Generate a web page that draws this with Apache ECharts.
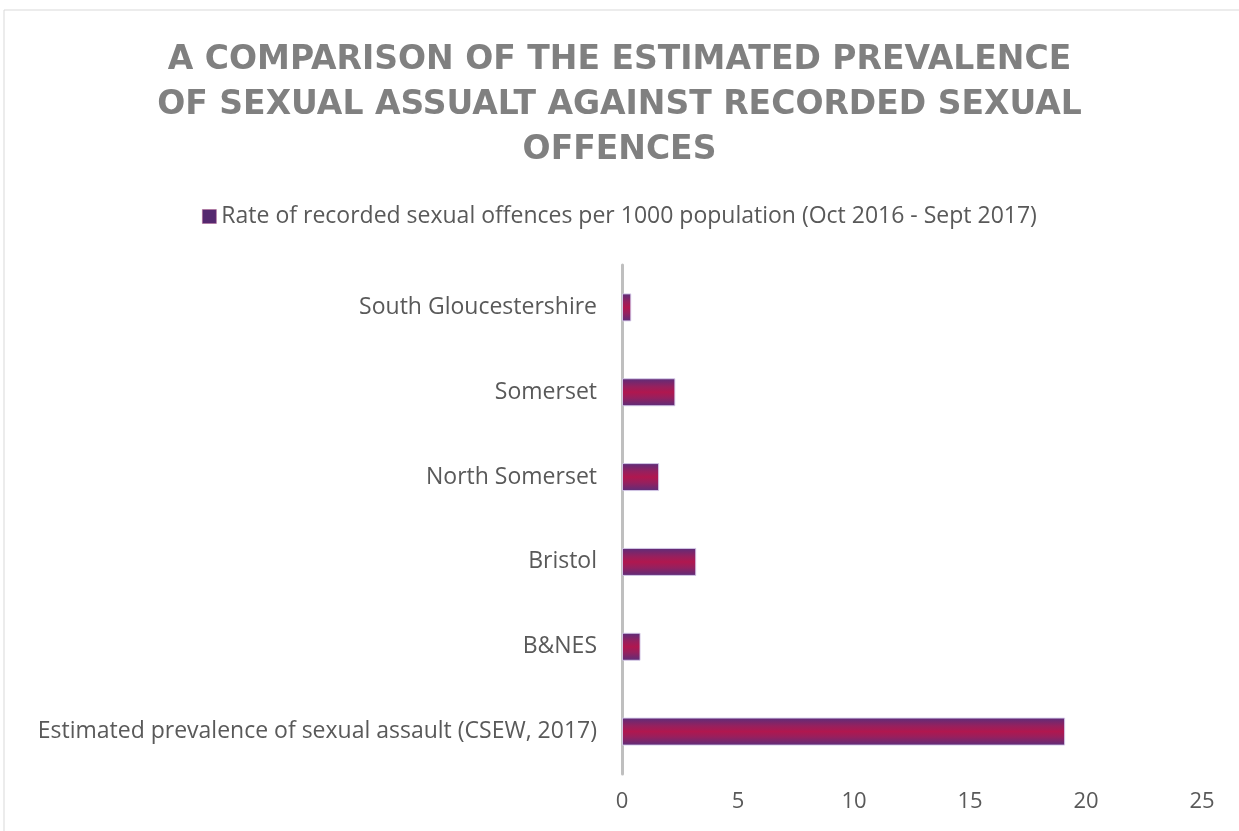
<!DOCTYPE html>
<html>
<head>
<meta charset="utf-8">
<script src="https://cdn.jsdelivr.net/npm/echarts@6/dist/echarts.min.js"></script>
<style>
  html, body { margin: 0; padding: 0; background: #fff; }
  #chart { width: 1239px; height: 831px; }
</style>
</head>
<body>
<div id="chart"></div>
<script>
// categories bottom -> top (ECharts category y axis starts at the bottom)
let categories = [
  'Estimated prevalence of sexual assault (CSEW, 2017)',
  'B&NES',
  'Bristol',
  'North Somerset',
  'Somerset',
  'South Gloucestershire'
];
let rates = [19.1, 0.8, 3.2, 1.6, 2.3, 0.4];
let xTicks = [0, 5, 10, 15, 20, 25];
let seriesName = 'Rate of recorded sexual offences per 1000 population (Oct 2016 - Sept 2017)';

let mychart = echarts.init(document.getElementById('chart'));
mychart.setOption({
  animation: false,
  textStyle: { fontFamily: 'Open Sans' },
  title: {
    text: 'A COMPARISON OF THE ESTIMATED PREVALENCE\nOF SEXUAL ASSUALT AGAINST RECORDED SEXUAL\nOFFENCES',
    left: 'center',
    top: 33,
    textStyle: {
      fontFamily: 'DejaVu Sans',
      fontSize: 33,
      fontWeight: 'bold',
      color: '#808080',
      lineHeight: 45,
      align: 'center'
    }
  },
  legend: {
    data: [seriesName],
    top: 200,
    left: 'center',
    itemWidth: 14,
    itemHeight: 14,
    itemGap: 7,
    icon: 'rect',
    itemStyle: { color: '#55286f', borderColor: '#b06090', borderWidth: 0.5 },
    textStyle: { fontSize: 23, color: '#595959', fontFamily: 'Open Sans' }
  },
  graphic: [{
    type: 'rect',
    shape: { x: 4, y: 10, width: 1400, height: 900 },
    style: { fill: 'none', stroke: '#d9d9d9', lineWidth: 1 },
    silent: true
  }],
  grid: { left: 622, right: 37, top: 265, height: 509, containLabel: false },
  xAxis: {
    type: 'value',
    min: 0,
    max: 25,
    interval: 5,
    axisLine: { show: false },
    axisTick: { show: false },
    splitLine: { show: false },
    axisLabel: {
      fontSize: 22,
      color: '#595959',
      margin: 17,
      formatter: function (v) { return xTicks.indexOf(v) >= 0 ? String(v) : ''; }
    }
  },
  yAxis: {
    type: 'category',
    data: categories,
    axisLine: { show: true, lineStyle: { color: '#bfbfbf', width: 3 } },
    axisTick: { show: false },
    axisLabel: { fontSize: 23, color: '#595959', margin: 25 }
  },
  series: [{
    name: seriesName,
    type: 'bar',
    data: rates,
    barWidth: 28,
    itemStyle: {
      borderColor: 'rgba(215,205,235,0.9)',
      borderWidth: 1,
      color: {
        type: 'linear', x: 0, y: 0, x2: 0, y2: 1,
        colorStops: [
          { offset: 0, color: '#5b2d7a' },
          { offset: 0.3, color: '#96205e' },
          { offset: 0.5, color: '#b0174f' },
          { offset: 0.7, color: '#96205e' },
          { offset: 1, color: '#5b2d7a' }
        ]
      }
    }
  }]
});
</script>
</body>
</html>
